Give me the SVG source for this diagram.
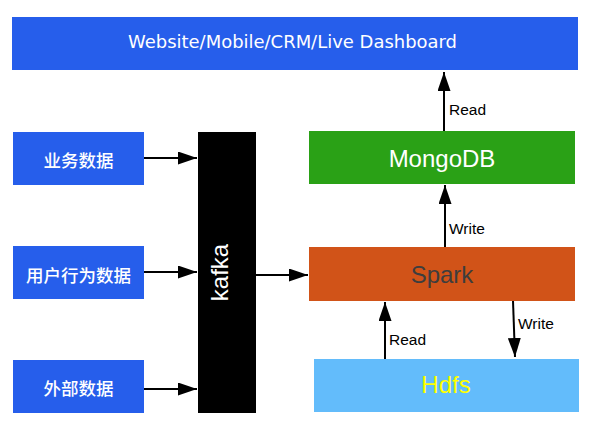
<svg xmlns="http://www.w3.org/2000/svg" width="591" height="426" viewBox="0 0 591 426">
<style>
.blue{fill:#265EEB}
.cn{font-family:"Noto Sans CJK SC","Noto Sans CJK JP",sans-serif;font-size:17.5px;font-weight:500;fill:#fff;text-anchor:middle;dominant-baseline:central}
.lbl{font-family:"Liberation Sans",Arial,sans-serif;font-size:15.5px;fill:#000}
.big{font-family:"Liberation Sans",Arial,sans-serif;font-size:24px;text-anchor:middle}
.ln{stroke:#000;stroke-width:2;fill:none;marker-end:url(#ah)}
</style>
<defs>
<marker id="ah" viewBox="0 0 10 10" refX="10" refY="5" markerWidth="19" markerHeight="13" markerUnits="userSpaceOnUse" orient="auto" preserveAspectRatio="none">
<path d="M0,0 L10,5 L0,10 Z" fill="#000"/>
</marker>
</defs>
<rect width="591" height="426" fill="#fff"/>
<g id="dashboard">
<rect class="blue" x="12" y="17" width="566" height="53"/>
<text x="292.5" y="48" font-family="'DejaVu Sans',sans-serif" font-size="17.5" fill="#fff" text-anchor="middle" textLength="329" lengthAdjust="spacingAndGlyphs">Website/Mobile/CRM/Live Dashboard</text>
</g>
<g id="yewu">
<rect class="blue" x="13" y="132" width="131" height="53"/>
<text class="cn" x="78.5" y="159.5">业务数据</text>
</g>
<g id="yonghu">
<rect class="blue" x="13" y="246" width="131" height="53"/>
<text class="cn" x="78.5" y="274">用户行为数据</text>
</g>
<g id="waibu">
<rect class="blue" x="13" y="360" width="131" height="53"/>
<text class="cn" x="78.5" y="387.5">外部数据</text>
</g>
<g id="kafka">
<rect x="198" y="132" width="58" height="281" fill="#000"/>
<text x="0" y="0" transform="translate(228,272.5) rotate(-90)" font-family="'Liberation Sans',Arial,sans-serif" font-size="24" fill="#fff" text-anchor="middle">kafka</text>
</g>
<g id="mongodb">
<rect x="309" y="131" width="266" height="53" fill="#2AA116"/>
<text class="big" x="442" y="166.5" fill="#fff">MongoDB</text>
</g>
<g id="spark">
<rect x="309" y="247" width="266" height="54" fill="#D15318"/>
<text class="big" x="442" y="282.5" fill="#3d3d3d">Spark</text>
</g>
<g id="hdfs">
<rect x="314" y="359" width="265" height="53" fill="#63BCFB"/>
<text class="big" x="446" y="393" fill="#FFFF00">Hdfs</text>
</g>
<g id="connectors">
<line class="ln" x1="144" y1="158" x2="197" y2="158"/>
<line class="ln" x1="144" y1="272" x2="197" y2="272"/>
<line class="ln" x1="144" y1="389" x2="197" y2="389"/>
<line class="ln" x1="256" y1="275" x2="308" y2="275"/>
<line class="ln" x1="444" y1="131" x2="444" y2="72"/>
<line class="ln" x1="445" y1="247" x2="445" y2="185"/>
<line class="ln" x1="385" y1="359" x2="385" y2="302"/>
<line class="ln" x1="513" y1="301" x2="515" y2="357"/>
<text class="lbl" x="449" y="115">Read</text>
<text class="lbl" x="449" y="234">Write</text>
<text class="lbl" x="389" y="345">Read</text>
<text class="lbl" x="518" y="328.5">Write</text>
</g>
</svg>
